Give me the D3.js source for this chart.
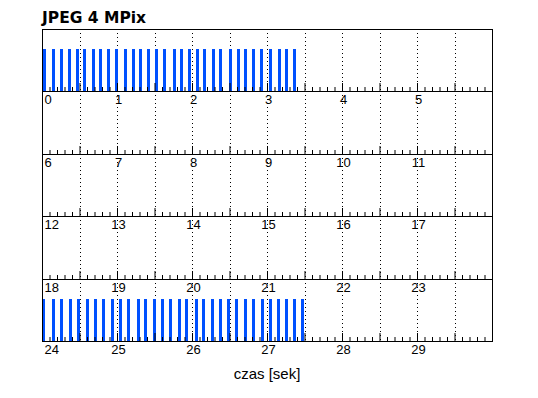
<!DOCTYPE html>
<html>
<head>
<meta charset="utf-8">
<script src="https://cdn.jsdelivr.net/npm/d3@7"></script>
<style>
	body { margin: 0; background: #fff; }
	svg { display: block; }
	.tick text { font-family: "Liberation Sans", Arial, sans-serif; font-size: 13px; fill: #000; }
</style>
</head>
<body>
<script>
// Timeline chart, 6 seconds per row
const width = 538;
const height = 398;
const margin = {top: 29, right: 46, bottom: 57, left: 42};

const title = 'JPEG 4 MPix';
const xLabel = 'czas [sek]';
const rowStarts = [0, 6, 12, 18, 24];	// seconds at the left of each row
const secondsPerRow = 6;

// frame start times (s)
const frameStarts = [
	0.01, 0.13, 0.24, 0.35, 0.45, 0.55, 0.67, 0.76, 0.87, 0.97,
	1.09, 1.20, 1.29, 1.40, 1.51, 1.61, 1.75, 1.84, 1.95, 2.05,
	2.15, 2.27, 2.36, 2.49, 2.60, 2.69, 2.80, 2.91, 3.03, 3.15,
	3.24, 3.35,
	24.00, 24.13, 24.24, 24.36, 24.47, 24.59, 24.69, 24.80, 24.92, 25.03,
	25.13, 25.27, 25.36, 25.48, 25.59, 25.69, 25.81, 25.91, 26.04, 26.13,
	26.25, 26.36, 26.47, 26.57, 26.69, 26.80, 26.92, 27.03, 27.13, 27.24,
	27.35, 27.45
];
const frameDuration = 0.045;
const frameLevel = 1;

const svg = d3.select('body')
	.append('svg')
	.attr('width', width)
	.attr('height', height);

let xScale = d3.scaleLinear()
	.domain([0, secondsPerRow])
	.range([margin.left, width - margin.right]);

let rowScale = d3.scaleBand()
	.domain(rowStarts)
	.range([margin.top, height - margin.bottom]);

let yUnit = d3.scaleLinear()
	.domain([0, 1.5])
	.range([0, rowScale.bandwidth()]);

const minorTicks = d3.range(1, 60).map(d => d / 10).filter(d => d % 0.5 > 0.01 && d % 0.5 < 0.49);
const halfTicks = d3.range(1, 12).map(d => d / 2);
const intTicks = d3.range(0, 6);

rowStarts.forEach(start => {
	const top = Math.round(rowScale(start));
	const bottom = Math.round(rowScale(start) + rowScale.bandwidth());
	const g = svg.append('g');

	// dotted grid every half second
	g.selectAll('line.grid')
		.data(halfTicks)
		.join('line')
		.attr('class', 'grid')
		.attr('x1', d => Math.round(xScale(d)) + 0.5)
		.attr('x2', d => Math.round(xScale(d)) + 0.5)
		.attr('y1', top)
		.attr('y2', bottom)
		.attr('stroke', '#000')
		.attr('stroke-dasharray', '1,3');

	// frames
	g.selectAll('rect.frame')
		.data(frameStarts.filter(t => t >= start && t < start + secondsPerRow))
		.join('rect')
		.attr('class', 'frame')
		.attr('x', d => Math.round(xScale(d - start)))
		.attr('width', d => Math.max(3, Math.round(xScale(frameDuration) - xScale(0))))
		.attr('y', bottom - Math.round(yUnit(frameLevel)))
		.attr('height', Math.round(yUnit(frameLevel)))
		.attr('fill', '#0050ff')
		.attr('shape-rendering', 'crispEdges');

	// minor ticks
	g.append('g')
		.attr('transform', `translate(0, ${bottom})`)
		.call(d3.axisBottom(xScale).tickValues(minorTicks).tickSize(-4).tickSizeOuter(0).tickFormat(''))
		.call(a => a.select('.domain').remove());

	// half-second ticks
	g.append('g')
		.attr('transform', `translate(0, ${bottom})`)
		.call(d3.axisBottom(xScale).tickValues(halfTicks).tickSize(-8).tickSizeOuter(0).tickFormat(''))
		.call(a => a.select('.domain').remove());

	// second labels
	g.append('g')
		.attr('transform', `translate(0, ${bottom})`)
		.call(d3.axisBottom(xScale).tickValues(intTicks).tickSize(0).tickPadding(4)
			.tickFormat(d => d + start))
		.call(a => a.select('.domain').remove())
		.call(a => a.selectAll('.tick text')
			.attr('text-anchor', d => d === 0 ? 'start' : 'middle')
			.attr('dx', d => d === 0 ? 2 : 1));

	// row frame
	g.append('rect')
		.attr('x', margin.left + 0.5)
		.attr('y', top + 0.5)
		.attr('width', Math.round(xScale(secondsPerRow)) - margin.left)
		.attr('height', bottom - top)
		.attr('fill', 'none')
		.attr('stroke', '#000');
});

svg.append('text')
	.attr('x', margin.left)
	.attr('y', 23)
	.attr('font-family', '"DejaVu Sans", sans-serif')
	.attr('font-weight', 'bold')
	.attr('font-size', 15.5)
	.text(title);

svg.append('text')
	.attr('x', (xScale(0) + xScale(secondsPerRow)) / 2)
	.attr('y', 379)
	.attr('text-anchor', 'middle')
	.attr('font-family', '"Liberation Sans", Arial, sans-serif')
	.attr('font-size', 15)
	.text(xLabel);
</script>
</body>
</html>
